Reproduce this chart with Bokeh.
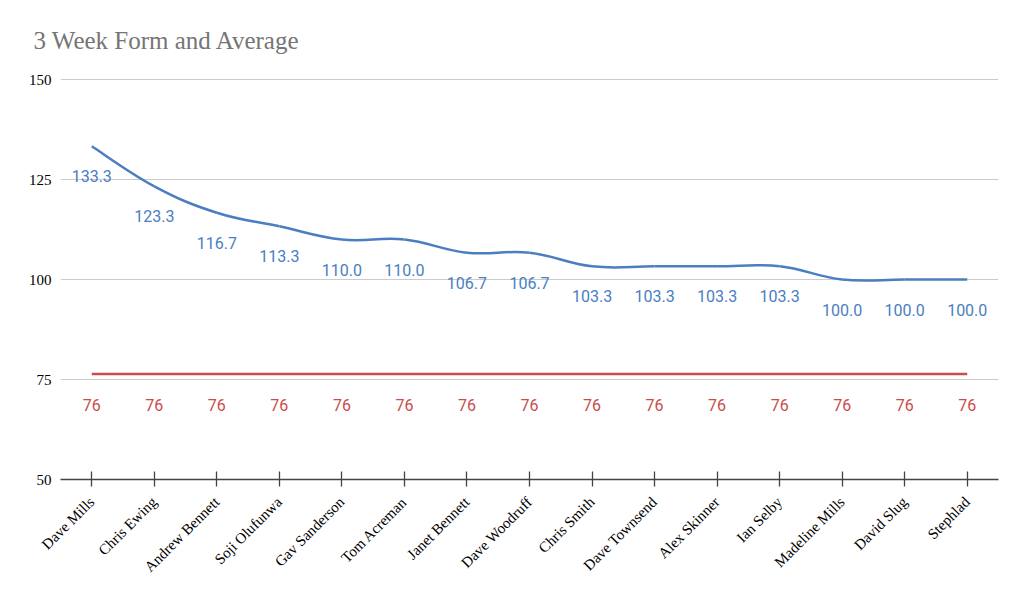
import math
from bokeh.plotting import figure
from bokeh.models import Range1d, FixedTicker, ColumnDataSource
from bokeh.core.properties import value
from bokeh.embed import file_html
from bokeh.resources import INLINE

players = ["Dave Mills", "Chris Ewing", "Andrew Bennett", "Soji Olufunwa", "Gav Sanderson",
           "Tom Acreman", "Janet Bennett", "Dave Woodruff", "Chris Smith", "Dave Townsend",
           "Alex Skinner", "Ian Selby", "Madeline Mills", "David Slug", "Stephlad"]
form = [133.3, 123.3, 116.7, 113.3, 110.0, 110.0, 106.7, 106.7, 103.3, 103.3,
        103.3, 103.3, 100.0, 100.0, 100.0]
average = [76.4] * 15
y_ticks = [50, 75, 100, 125, 150]

BLUE = "#4a7ec1"
RED = "#c94c4c"

xs = list(range(len(players)))

p = figure(width=1015, height=587, frame_width=938, frame_height=402,
           output_backend="svg", toolbar_location=None,
           x_range=Range1d(-0.5, len(players) - 0.5), y_range=Range1d(50, 150.5),
           min_border_left=60, min_border_right=17, min_border_top=77, min_border_bottom=108)
p.outline_line_color = None
p.background_fill_color = "white"

p.title.text = "3 Week Form and Average"
p.title.text_font = "Liberation Serif"
p.title.text_font_size = "25px"
p.title.text_font_style = "normal"
p.title.text_color = "#757575"
p.title.offset = -27
p.title.standoff = 48

# axes
xa = p.xaxis[0]
xa.ticker = FixedTicker(ticks=xs)
xa.major_label_overrides = {i: n for i, n in enumerate(players)}
xa.major_label_orientation = math.pi / 4
xa.major_label_text_font = "Liberation Serif"
xa.major_label_text_font_size = "15px"
xa.major_label_text_color = "black"
xa.major_label_standoff = 13
xa.axis_line_color = "#444444"
xa.axis_line_width = 1.5
xa.major_tick_line_color = "#444444"
xa.major_tick_line_width = 1.3
xa.major_tick_in = 8
xa.major_tick_out = 7
xa.minor_tick_line_color = None

ya = p.yaxis[0]
ya.ticker = FixedTicker(ticks=y_ticks)
ya.axis_line_color = None
ya.major_tick_line_color = None
ya.minor_tick_line_color = None
ya.major_label_text_font = "Liberation Serif"
ya.major_label_text_font_size = "15px"
ya.major_label_text_color = "black"
ya.major_label_standoff = 3

p.xgrid.grid_line_color = None
p.ygrid.ticker = FixedTicker(ticks=y_ticks[1:])
p.ygrid.grid_line_color = "#cccccc"
p.ygrid.grid_line_width = 1

# average line
p.line(xs, average, line_color=RED, line_width=2.5)

# smooth form curve as cubic Bezier segments through the data points
k = 0.2
n = len(form)
def pt(i):
    i = max(0, min(n - 1, i))
    return xs[i], form[i]
seg = dict(x0=[], y0=[], x1=[], y1=[], cx0=[], cy0=[], cx1=[], cy1=[])
for i in range(n - 1):
    xa0, ya0 = pt(i)
    xb0, yb0 = pt(i + 1)
    xp, yp = pt(i - 1)
    xn, yn = pt(i + 2)
    seg["x0"].append(xa0); seg["y0"].append(ya0)
    seg["x1"].append(xb0); seg["y1"].append(yb0)
    seg["cx0"].append(xa0 + (xb0 - xp) * k); seg["cy0"].append(ya0 + (yb0 - yp) * k)
    seg["cx1"].append(xb0 - (xn - xa0) * k); seg["cy1"].append(yb0 - (yn - ya0) * k)
p.bezier(x0="x0", y0="y0", x1="x1", y1="y1", cx0="cx0", cy0="cy0", cx1="cx1", cy1="cy1",
         source=ColumnDataSource(seg), line_color=BLUE, line_width=2.5)

# data labels
p.text(xs, form, text=[f"{v:.1f}" for v in form], text_color=BLUE,
       text_font=value("Roboto"), text_font_size="16px", text_align="center",
       text_baseline="middle", y_offset=30)
p.text(xs, average, text=[f"{v:.0f}" for v in average], text_color=RED,
       text_font=value("Roboto"), text_font_size="16px", text_align="center",
       text_baseline="middle", y_offset=31)

open("out.html", "w").write(file_html(p, INLINE))
